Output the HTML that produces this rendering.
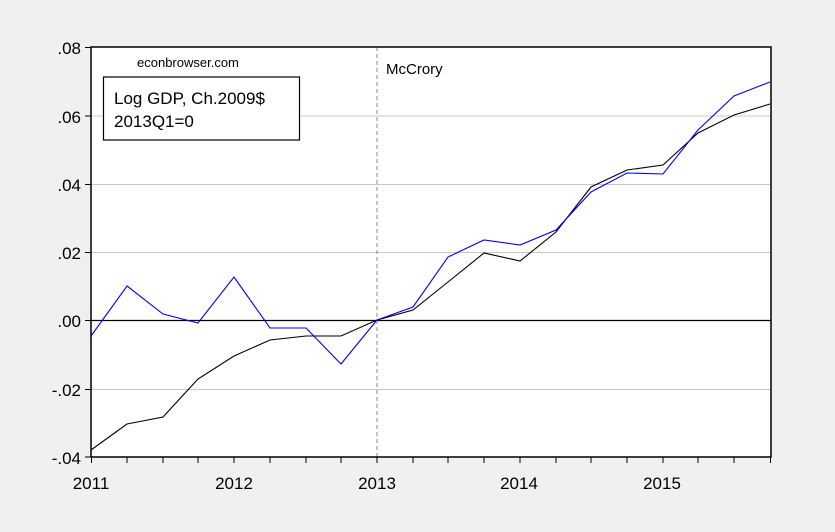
<!DOCTYPE html>
<html><head><meta charset="utf-8"><style>
body{margin:0;background:#f0f0f0;}
svg{display:block;font-family:"Liberation Sans",Arial,sans-serif;}
</style></head><body>
<svg width="835" height="532" xmlns="http://www.w3.org/2000/svg">
<rect width="835" height="532" fill="#f0f0f0"/>
<rect x="91" y="47" width="680" height="410" fill="#fff"/>
<g stroke="#c8c8c8" stroke-width="1">
<line x1="91" x2="771" y1="116" y2="116"/>
<line x1="91" x2="771" y1="184.5" y2="184.5"/>
<line x1="91" x2="771" y1="252.5" y2="252.5"/>
<line x1="91" x2="771" y1="389.5" y2="389.5"/>
</g>
<line x1="91" x2="771" y1="320.5" y2="320.5" stroke="#000" stroke-width="1.2"/>
<line x1="377" x2="377" y1="47" y2="457" stroke="#888" stroke-dasharray="4,3"/>
<polyline fill="none" stroke="#000" stroke-width="1.1" points="91,450 127,424 163,417 198,379 234,356 270,340 306,336 341,336 377,320 413,310 448,282 484,253 520,261 556,232 591,187 627,170 663,165 698,133 734,115 770,104"/>
<polyline fill="none" stroke="#0000ff" stroke-width="1.1" points="91,336 127,286 163,314 198,323 234,277 270,328 306,328 341,364 377,320 413,307 448,257 484,240 520,245 556,230 591,192 627,173 663,174 698,130 734,96 770,82"/>
<rect x="91" y="47" width="680" height="410" fill="none" stroke="#000" stroke-width="1.5"/>
<g stroke="#000" stroke-width="1">
<line x1="85" x2="91" y1="47.5" y2="47.5"/><line x1="85" x2="91" y1="116" y2="116"/>
<line x1="85" x2="91" y1="184.5" y2="184.5"/><line x1="85" x2="91" y1="252.5" y2="252.5"/>
<line x1="85" x2="91" y1="320.5" y2="320.5"/><line x1="85" x2="91" y1="389.5" y2="389.5"/>
<line x1="85" x2="91" y1="457" y2="457"/>
<line x1="91.5" x2="91.5" y1="457" y2="463"/><line x1="127" x2="127" y1="457" y2="463"/><line x1="163" x2="163" y1="457" y2="463"/><line x1="198" x2="198" y1="457" y2="463"/>
<line x1="234" x2="234" y1="457" y2="463"/><line x1="270" x2="270" y1="457" y2="463"/><line x1="306" x2="306" y1="457" y2="463"/><line x1="341" x2="341" y1="457" y2="463"/>
<line x1="377" x2="377" y1="457" y2="463"/><line x1="413" x2="413" y1="457" y2="463"/><line x1="448" x2="448" y1="457" y2="463"/><line x1="484" x2="484" y1="457" y2="463"/>
<line x1="520" x2="520" y1="457" y2="463"/><line x1="556" x2="556" y1="457" y2="463"/><line x1="591" x2="591" y1="457" y2="463"/><line x1="627" x2="627" y1="457" y2="463"/>
<line x1="663" x2="663" y1="457" y2="463"/><line x1="698" x2="698" y1="457" y2="463"/><line x1="734" x2="734" y1="457" y2="463"/><line x1="770.5" x2="770.5" y1="457" y2="463"/>
</g>
<g font-size="17" text-anchor="end" fill="#000">
<text x="81" y="54">.08</text><text x="81" y="123">.06</text><text x="81" y="191">.04</text>
<text x="81" y="259">.02</text><text x="81" y="327">.00</text><text x="81" y="396">-.02</text><text x="81" y="464">-.04</text>
</g>
<g font-size="17" text-anchor="middle" fill="#000">
<text x="91" y="489">2011</text><text x="234" y="489">2012</text><text x="377" y="489">2013</text>
<text x="519" y="489">2014</text><text x="662" y="489">2015</text>
</g>
<text x="137" y="67" font-size="13">econbrowser.com</text>
<text x="386" y="74" font-size="15">McCrory</text>
<rect x="103.5" y="77" width="196" height="63" fill="#fff" stroke="#000" stroke-width="1.2"/>
<text x="114" y="104" font-size="17">Log GDP, Ch.2009$</text>
<text x="114" y="127" font-size="17">2013Q1=0</text>
</svg>
</body></html>
